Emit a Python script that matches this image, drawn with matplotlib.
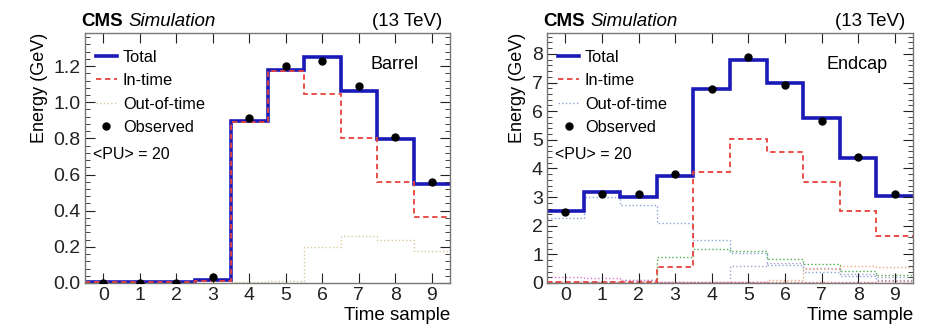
import numpy as np
import matplotlib
matplotlib.use("Agg")
import matplotlib.pyplot as plt
from matplotlib.ticker import AutoMinorLocator, MultipleLocator
from matplotlib.lines import Line2D

plt.rcParams['font.family'] = ['Liberation Sans', 'DejaVu Sans']

samples = list(range(10))
edges = np.arange(-0.5, 10.0, 1.0)

# Barrel
barrel_total = [0.005, 0.005, 0.005, 0.015, 0.895, 1.178, 1.25, 1.064, 0.795, 0.55]
barrel_intime = [0.004, 0.004, 0.004, 0.013, 0.89, 1.17, 1.048, 0.803, 0.558, 0.367]
barrel_oot = [0.0, 0.0, 0.0, 0.002, 0.005, 0.01, 0.2, 0.259, 0.237, 0.178]
barrel_obs = [0.002, 0.002, 0.002, 0.035, 0.911, 1.2, 1.229, 1.091, 0.809, 0.56]

# Endcap
endcap_total = [2.53, 3.18, 3.0, 3.73, 6.78, 7.8, 6.97, 5.76, 4.35, 3.05]
endcap_intime = [0.02, 0.02, 0.02, 0.56, 3.87, 5.03, 4.58, 3.54, 2.53, 1.65]
endcap_obs = [2.49, 3.12, 3.12, 3.8, 6.78, 7.89, 6.92, 5.65, 4.41, 3.12]
endcap_oot_a = [2.26, 2.99, 2.71, 2.09, 1.51, 1.05, 0.62, 0.38, 0.25, 0.12]
endcap_oot_b = [0.0, 0.0, 0.0, 0.92, 1.2, 1.1, 0.84, 0.66, 0.42, 0.27]
endcap_oot_c = [0.0, 0.02, 0.1, 0.05, 0.05, 0.6, 0.7, 0.52, 0.32, 0.2]
endcap_oot_d = [0.0, 0.0, 0.0, 0.0, 0.0, 0.02, 0.1, 0.5, 0.58, 0.55]
endcap_oot_e = [0.2, 0.18, 0.12, 0.05, 0.03, 0.02, 0.01, 0.01, 0.01, 0.01]
endcap_oot_f = [0.02, 0.02, 0.02, 0.02, 0.02, 0.02, 0.02, 0.03, 0.05, 0.06]

BLUE = '#1a1ab8'
RED = '#e8413c'

fig = plt.figure(figsize=(9.25, 3.27), dpi=100)
ax1 = fig.add_axes([0.0919, 0.1346, 0.3946, 0.7645])
ax2 = fig.add_axes([0.5914, 0.1346, 0.3957, 0.7645])


def style(ax, ymax, ymajor):
    ax.set_xlim(-0.5, 9.5)
    ax.set_ylim(0, ymax)
    ax.xaxis.set_major_locator(MultipleLocator(1))
    ax.yaxis.set_major_locator(MultipleLocator(ymajor))
    ax.yaxis.set_minor_locator(AutoMinorLocator(5))
    ax.tick_params(which='both', direction='in', top=True, right=True,
                   labelsize=14, colors='#222222', pad=3)
    ax.tick_params(which='major', length=7, width=0.8)
    ax.tick_params(which='minor', length=3.5, width=0.6)
    ax.tick_params(axis='x', which='minor', length=0)
    for s in ax.spines.values():
        s.set_color('#777777')
        s.set_linewidth(1.0)
    ax.set_xlabel('Time sample', fontsize=13.5, loc='right', labelpad=2)
    ax.set_ylabel('Energy (GeV)', fontsize=13, loc='top', labelpad=4)
    ax.text(-0.011, 1.028, 'CMS', transform=ax.transAxes, fontsize=13.5,
            fontweight='bold', ha='left', va='baseline')
    ax.text(0.12, 1.028, 'Simulation', transform=ax.transAxes, fontsize=13.5,
            style='italic', ha='left', va='baseline')
    ax.text(0.98, 1.028, '(13 TeV)', transform=ax.transAxes, fontsize=13.5,
            ha='right', va='baseline')
    ax.text(0.022, 0.512, '<PU> = 20', transform=ax.transAxes, fontsize=11.5,
            ha='left', va='center')


# Barrel panel
ax1.stairs(barrel_oot, edges, baseline=None, color='#d9c9a0', lw=1.0, ls=':')
ax1.stairs(barrel_total, edges, baseline=None, color=BLUE, lw=2.6)
ax1.stairs(barrel_intime, edges, baseline=None, color=RED, lw=1.3, ls=(0, (3, 2)))
ax1.plot(samples, barrel_obs, 'o', color='black', ms=5, zorder=5)
style(ax1, 1.383, 0.2)
ax1.yaxis.set_major_formatter(matplotlib.ticker.FormatStrFormatter('%.1f'))
ax1.text(0.849, 0.872, 'Barrel', transform=ax1.transAxes, fontsize=13,
         ha='center', va='center')
h1 = [Line2D([], [], color=BLUE, lw=2.6),
      Line2D([], [], color=RED, lw=1.3, ls=(0, (3, 2))),
      Line2D([], [], color='#d9c9a0', lw=1.0, ls=':'),
      Line2D([], [], color='black', marker='o', ls='none', ms=5)]

# Endcap panel
oot_colors = ['#8aa4d8', '#4cae4c', '#a8a0c8', '#f0a880', '#d878d8', '#e87070']
for vals, c in zip([endcap_oot_a, endcap_oot_b, endcap_oot_c, endcap_oot_d,
                    endcap_oot_e, endcap_oot_f], oot_colors):
    ax2.stairs(vals, edges, baseline=None, color=c, lw=1.0, ls=':')
ax2.stairs(endcap_total, edges, baseline=None, color=BLUE, lw=2.6)
ax2.stairs(endcap_intime, edges, baseline=None, color=RED, lw=1.3, ls=(0, (3, 2)))
ax2.plot(samples, endcap_obs, 'o', color='black', ms=5, zorder=5)
style(ax2, 8.73, 1)
ax2.text(0.847, 0.872, 'Endcap', transform=ax2.transAxes, fontsize=13,
         ha='center', va='center')
h2 = [Line2D([], [], color=BLUE, lw=2.6),
      Line2D([], [], color=RED, lw=1.3, ls=(0, (3, 2))),
      Line2D([], [], color='#8aa4d8', lw=1.0, ls=':'),
      Line2D([], [], color='black', marker='o', ls='none', ms=5)]

labels = ['Total', 'In-time', 'Out-of-time', 'Observed']
for ax, h in [(ax1, h1), (ax2, h2)]:
    ax.legend(h, labels, loc='upper left', bbox_to_anchor=(0.005, 0.97),
              frameon=False, fontsize=11.8, handlelength=1.3, handletextpad=0.35,
              labelspacing=0.52, borderaxespad=0.25, borderpad=0.3)

fig.savefig('out.png', dpi=100)
